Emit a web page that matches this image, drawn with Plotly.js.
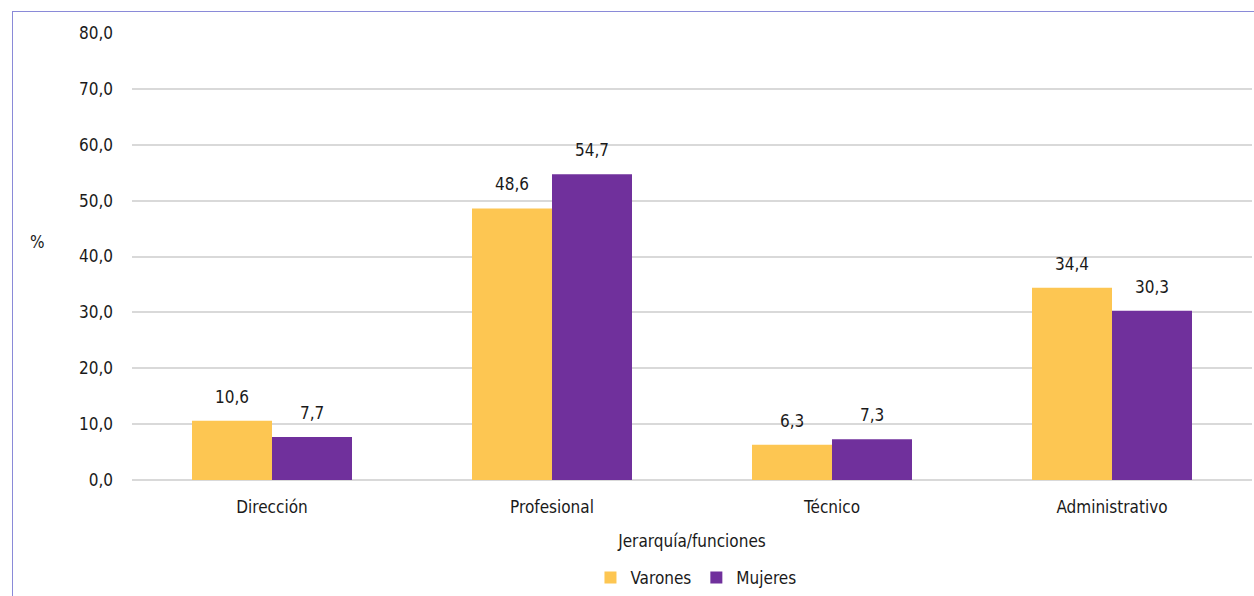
<!DOCTYPE html>
<html>
<head>
<meta charset="utf-8">
<script src="https://cdn.plot.ly/plotly-3.0.1.min.js"></script>
<style>
html,body{margin:0;padding:0;background:#fff;}
#wrap{position:relative;width:1254px;height:596px;overflow:hidden;}
#frame{position:absolute;left:12px;top:11px;width:1300px;height:700px;border-left:1px solid #8a8ad8;border-top:1px solid #8a8ad8;pointer-events:none;}
#chart{position:absolute;left:0;top:0;width:1254px;height:596px;}
</style>
</head>
<body>
<div id="wrap"><div id="chart"></div><div id="frame"></div></div>
<script>
var categories = ["Dirección", "Profesional", "Técnico", "Administrativo"];
var varones = [10.6, 48.6, 6.3, 34.4];
var mujeres = [7.7, 54.7, 7.3, 30.3];
var yTicks = [0, 10, 20, 30, 40, 50, 60, 70, 80];
var yTickLabels = ["0,0", "10,0", "20,0", "30,0", "40,0", "50,0", "60,0", "70,0", "80,0"];

function fmt(v){ return v.toFixed(1).replace(".", ","); }

var FONT = "'DejaVu Sans Condensed', 'Roboto', sans-serif";
var TXT = {family:FONT, size:17, color:"#1a1a1a"};

var BARGAP = 0.4286;
var half = (1 - BARGAP) / 4;

var traces = [
  {type:"bar", name:"Varones", x:categories, y:varones,
   marker:{color:"#fdc652"}, hoverinfo:"none"},
  {type:"bar", name:"Mujeres", x:categories, y:mujeres,
   marker:{color:"#70309c"}, hoverinfo:"none"}
];

var annotations = [];
categories.forEach(function(c, i){
  annotations.push({xref:"x", yref:"y", x:i - half, y:varones[i], text:fmt(varones[i]), showarrow:false,
    yanchor:"middle", xanchor:"center", yshift:24, font:TXT});
  annotations.push({xref:"x", yref:"y", x:i + half, y:mujeres[i], text:fmt(mujeres[i]), showarrow:false,
    yanchor:"middle", xanchor:"center", yshift:24, font:TXT});
});
annotations.push({text:"%", xref:"paper", yref:"paper", x:-0.084, y:0.533, showarrow:false,
  xanchor:"center", yanchor:"middle", font:TXT});

var layout = {
  width:1254, height:596,
  margin:{l:132, r:2, t:33, b:116},
  paper_bgcolor:"#ffffff", plot_bgcolor:"#ffffff",
  font:TXT,
  barmode:"group", bargap:BARGAP, bargroupgap:0,
  showlegend:true,
  legend:{orientation:"h", x:0.555, xanchor:"center", xref:"container", y:0, yanchor:"bottom", yref:"container",
          font:TXT, itemwidth:30, traceorder:"normal"},
  xaxis:{type:"category", showgrid:false, zeroline:false, showline:false, ticks:"",
         range:[-0.5, 3.5],
         ticklabelstandoff:15, tickfont:TXT,
         title:{text:"Jerarquía/funciones", font:TXT, standoff:19}},
  yaxis:{range:[0,80], tickvals:yTicks, ticktext:yTickLabels, showgrid:true, gridcolor:"#d9d9d9", gridwidth:1.5,
         zeroline:true, zerolinecolor:"#d9d9d9", zerolinewidth:1.5, showline:false, ticks:"",
         ticklabelstandoff:18, tickfont:TXT},
  annotations:annotations
};

Plotly.newPlot("chart", traces, layout, {displayModeBar:false, responsive:false});
</script>
</body>
</html>
